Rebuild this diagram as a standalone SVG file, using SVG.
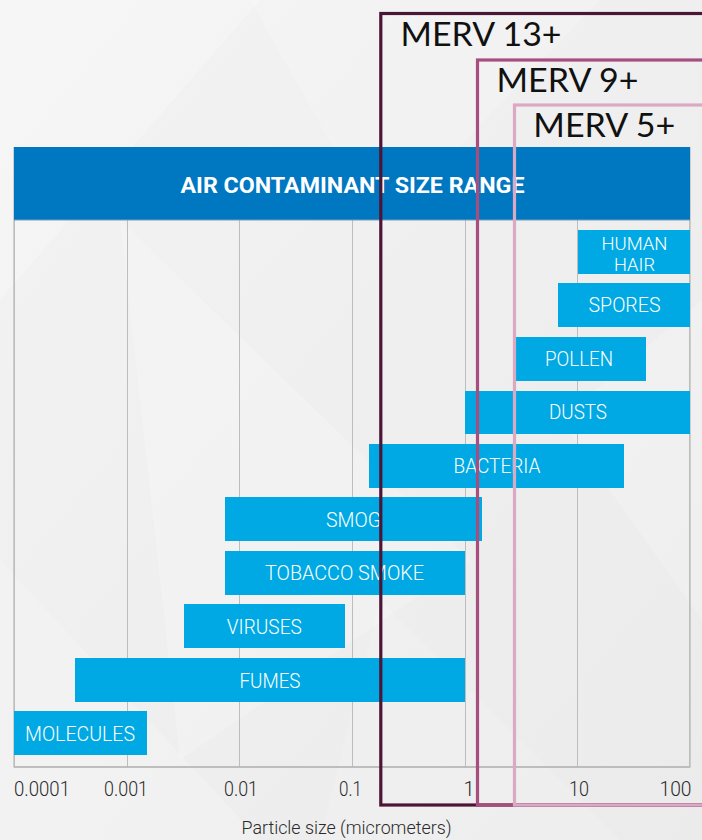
<svg xmlns="http://www.w3.org/2000/svg" width="702" height="840" viewBox="0 0 702 840">
<defs>
<linearGradient id="bg" x1="0" y1="0" x2="1" y2="1">
<stop offset="0" stop-color="#f3f3f3"/>
<stop offset="0.5" stop-color="#efefef"/>
<stop offset="1" stop-color="#ebebeb"/>
</linearGradient>
<style>
.grid{stroke:#bdbdbd;stroke-width:1;fill:none}
.bar{fill:#00a9e3}
.bl{font-family:Roboto,"Liberation Sans",sans-serif;font-weight:300;font-size:21px;fill:#ffffff;text-anchor:middle}
.bs{font-size:17.5px}
.ax{font-family:Roboto,"Liberation Sans",sans-serif;font-weight:300;font-size:20px;fill:#2a2a2a;text-anchor:middle}
.merv{font-family:Lato,"Liberation Sans",sans-serif;font-size:32px;fill:#111111}
.box{fill:none;stroke-width:3.2}
</style>
</defs>
<rect x="0" y="0" width="702" height="840" fill="url(#bg)"/>
<g id="background-shards" fill="#ffffff">
<polygon points="0,0 260,0 0,300" opacity="0.25"/>
<polygon points="250,0 600,0 380,230" opacity="0.18"/>
<polygon points="120,220 470,560 180,760" opacity="0.2"/>
<polygon points="0,560 260,840 0,840" opacity="0.18"/>
<polygon points="560,420 702,300 702,620" opacity="0.2"/>
<polygon points="380,600 620,840 320,840" opacity="0.15"/>
</g>
<g id="plot-frame">
<rect x="14" y="147.5" width="676" height="619.5" fill="none" stroke="#a9a9a9" stroke-width="1"/>
<line class="grid" x1="127.5" y1="220" x2="127.5" y2="767"/>
<line class="grid" x1="239.5" y1="220" x2="239.5" y2="767"/>
<line class="grid" x1="352.5" y1="220" x2="352.5" y2="767"/>
<line class="grid" x1="465.5" y1="220" x2="465.5" y2="767"/>
<line class="grid" x1="577.5" y1="220" x2="577.5" y2="767"/>
<line class="grid" x1="689.5" y1="220" x2="689.5" y2="767"/>
<line class="grid" x1="14.5" y1="220" x2="14.5" y2="767"/>
<line x1="14" y1="767" x2="690" y2="767" stroke="#b0b0b0" stroke-width="1.2"/>
</g>
<g id="header">
<rect x="14" y="147" width="676" height="73" fill="#0077c1"/>
<line x1="14" y1="220" x2="690" y2="220" stroke="#7f9bb5" stroke-width="1"/>
<text x="352.5" y="192.5" font-family="Roboto,'Liberation Sans',sans-serif" font-weight="700" font-size="21.5" fill="#ffffff" text-anchor="middle" textLength="344" lengthAdjust="spacingAndGlyphs">AIR CONTAMINANT SIZE RANGE</text>
</g>
<g id="human-hair"><rect class="bar" x="578" y="230" width="112" height="44"/><text class="bl bs"><tspan x="634.5" y="249.5" textLength="66" lengthAdjust="spacingAndGlyphs">HUMAN</tspan><tspan x="634.5" y="270.5" textLength="41" lengthAdjust="spacingAndGlyphs">HAIR</tspan></text></g>
<g id="spores"><rect class="bar" x="558" y="283" width="132" height="44"/><text class="bl" x="624.5" y="312" textLength="72" lengthAdjust="spacingAndGlyphs">SPORES</text></g>
<g id="pollen"><rect class="bar" x="516" y="337" width="130" height="44"/><text class="bl" x="579" y="366" textLength="68" lengthAdjust="spacingAndGlyphs">POLLEN</text></g>
<g id="dusts"><rect class="bar" x="465" y="391" width="225" height="43"/><text class="bl" x="578" y="419" textLength="58" lengthAdjust="spacingAndGlyphs">DUSTS</text></g>
<g id="bacteria"><rect class="bar" x="369" y="444" width="255" height="44"/><text class="bl" x="497" y="473" textLength="87" lengthAdjust="spacingAndGlyphs">BACTERIA</text></g>
<g id="smog"><rect class="bar" x="225" y="497" width="257" height="44"/><text class="bl" x="353.5" y="527" textLength="55" lengthAdjust="spacingAndGlyphs">SMOG</text></g>
<g id="tobacco-smoke"><rect class="bar" x="225" y="551" width="240" height="44"/><text class="bl" x="344.5" y="580" textLength="159" lengthAdjust="spacingAndGlyphs">TOBACCO SMOKE</text></g>
<g id="viruses"><rect class="bar" x="184" y="604" width="161" height="44"/><text class="bl" x="264.3" y="634" textLength="75" lengthAdjust="spacingAndGlyphs">VIRUSES</text></g>
<g id="fumes"><rect class="bar" x="75" y="658" width="390" height="44"/><text class="bl" x="270" y="687.5" textLength="61" lengthAdjust="spacingAndGlyphs">FUMES</text></g>
<g id="molecules"><rect class="bar" x="14" y="711" width="133" height="44"/><text class="bl" x="80" y="741" textLength="110" lengthAdjust="spacingAndGlyphs">MOLECULES</text></g>
<g id="axis-labels">
<text class="ax" x="42" y="796" textLength="56" lengthAdjust="spacingAndGlyphs">0.0001</text>
<text class="ax" x="126" y="796" textLength="44" lengthAdjust="spacingAndGlyphs">0.001</text>
<text class="ax" x="241" y="796" textLength="34" lengthAdjust="spacingAndGlyphs">0.01</text>
<text class="ax" x="350.5" y="796" textLength="23" lengthAdjust="spacingAndGlyphs">0.1</text>
<text class="ax" x="469" y="796">1</text>
<text class="ax" x="579" y="796" textLength="20" lengthAdjust="spacingAndGlyphs">10</text>
<text class="ax" x="675.5" y="796" textLength="32" lengthAdjust="spacingAndGlyphs">100</text>
<text x="346.5" y="834" font-family="Roboto,'Liberation Sans',sans-serif" font-weight="300" font-size="17.5" fill="#2a2a2a" text-anchor="middle" textLength="210" lengthAdjust="spacingAndGlyphs">Particle size (micrometers)</text>
</g>
<g id="merv-13">
<rect class="box" x="380.8" y="13.5" width="340" height="791.5" stroke="#4b1535"/>
<text class="merv" x="400.5" y="46" textLength="161" lengthAdjust="spacingAndGlyphs">MERV 13+</text>
</g>
<g id="merv-9">
<rect class="box" x="477.5" y="60" width="260" height="745" stroke="#a64e7e"/>
<text class="merv" x="496.5" y="91.5" textLength="142" lengthAdjust="spacingAndGlyphs">MERV 9+</text>
</g>
<g id="merv-5">
<rect class="box" x="514.5" y="105" width="220" height="700" stroke="#dca9c5"/>
<text class="merv" x="533.3" y="136.5" textLength="142" lengthAdjust="spacingAndGlyphs">MERV 5+</text>
</g>
<g id="connectors"/>
</svg>
